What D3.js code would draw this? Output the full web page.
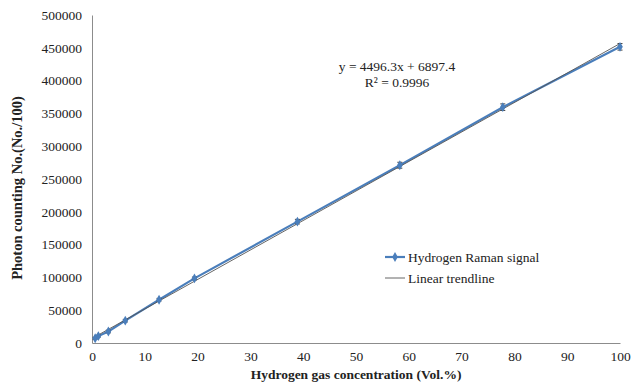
<!DOCTYPE html>
<html>
<head>
<meta charset="utf-8">
<script src="https://cdn.jsdelivr.net/npm/d3@7"></script>
<style>
  body { margin: 0; background: #fff; }
  svg, svg text { font-family: "Liberation Serif", "Times New Roman", serif; }
</style>
</head>
<body>
<div id="chart"></div>
<script>
const concentration = [0.6, 1.2, 3.1, 6.3, 12.7, 19.4, 38.9, 58.3, 77.8, 100]
const photonCount = [7200, 10500, 17500, 34000, 66000, 98500, 185000, 271000, 359500, 451500]
const errorBar = [1500, 1500, 2000, 2000, 2000, 2000, 3500, 4500, 5000, 5000]
const xTicks = [0, 10, 20, 30, 40, 50, 60, 70, 80, 90, 100]
const yTicks = [0, 50000, 100000, 150000, 200000, 250000, 300000, 350000, 400000, 450000, 500000]
const slope = 4496.3
const intercept = 6897.4
const trendRange = [0.6, 100]
const legendLabels = ["Hydrogen Raman signal", "Linear trendline"]

const dimensions = {
  width: 634,
  height: 386,
  margin: { top: 15, right: 14, bottom: 43, left: 92 },
  boundedWidth: 0,
  boundedHeight: 0
}
dimensions.boundedWidth = dimensions.width - dimensions.margin.left - dimensions.margin.right
dimensions.boundedHeight = dimensions.height - dimensions.margin.top - dimensions.margin.bottom

const blue = "#4a7ebb"
const serif = "'Liberation Serif', 'Times New Roman', serif"

const svg = d3.select("#chart")
  .append("svg")
    .attr("width", dimensions.width)
    .attr("height", dimensions.height)

const bounds = svg.append("g")
  .attr("transform", `translate(${dimensions.margin.left}, ${dimensions.margin.top})`)

const xScale = d3.scaleLinear()
  .domain([0, 100])
  .range([0, dimensions.boundedWidth])

const yScale = d3.scaleLinear()
  .domain([0, 500000])
  .range([dimensions.boundedHeight, 0])

// axes
const xAxis = bounds.append("g")
  .attr("transform", `translate(0, ${dimensions.boundedHeight})`)
  .call(d3.axisBottom(xScale).tickValues(xTicks).tickSize(0).tickPadding(8))
  .attr("font-family", serif)
xAxis.select(".domain").attr("stroke", "#8c8c8c")
xAxis.selectAll("text").attr("font-size", 13.5).attr("fill", "#222")

const yAxis = bounds.append("g")
  .call(d3.axisLeft(yScale).tickValues(yTicks).tickSize(0).tickPadding(10).tickFormat(d3.format("d")))
  .attr("font-family", serif)
yAxis.select(".domain").attr("stroke", "#8c8c8c")
yAxis.selectAll("text").attr("font-size", 13.5).attr("fill", "#222")

// data line
const line = d3.line()
  .x((d, i) => xScale(concentration[i]))
  .y(d => yScale(d))

bounds.append("path")
  .datum(photonCount)
  .attr("d", line)
  .attr("fill", "none")
  .attr("stroke", blue)
  .attr("stroke-width", 2.2)

// trendline
bounds.append("line")
  .attr("x1", xScale(trendRange[0]))
  .attr("y1", yScale(slope * trendRange[0] + intercept))
  .attr("x2", xScale(trendRange[1]))
  .attr("y2", yScale(slope * trendRange[1] + intercept))
  .attr("stroke", "#555")
  .attr("stroke-width", 0.9)

// error bars
const err = bounds.append("g").selectAll("g")
  .data(photonCount)
  .join("g")
err.append("line")
  .attr("x1", (d, i) => xScale(concentration[i]))
  .attr("x2", (d, i) => xScale(concentration[i]))
  .attr("y1", (d, i) => yScale(d - errorBar[i]))
  .attr("y2", (d, i) => yScale(d + errorBar[i]))
  .attr("stroke", "#444")
  .attr("stroke-width", 1)
err.selectAll(".cap")
  .data((d, i) => [[i, d - errorBar[i]], [i, d + errorBar[i]]])
  .join("line")
    .attr("x1", d => xScale(concentration[d[0]]) - 2.5)
    .attr("x2", d => xScale(concentration[d[0]]) + 2.5)
    .attr("y1", d => yScale(d[1]))
    .attr("y2", d => yScale(d[1]))
    .attr("stroke", "#444")
    .attr("stroke-width", 1)

// diamond markers
const diamond = d3.symbol().type(d3.symbolDiamond).size(28)
bounds.append("g").selectAll("path")
  .data(photonCount)
  .join("path")
    .attr("d", diamond)
    .attr("transform", (d, i) => `translate(${xScale(concentration[i])}, ${yScale(d)})`)
    .attr("fill", blue)

// equation
svg.append("text")
  .attr("x", 397).attr("y", 71)
  .attr("text-anchor", "middle")
  .attr("font-size", 13.5)
  .attr("fill", "#222")
  .text(`y = ${slope}x + ${intercept}`)
svg.append("text")
  .attr("x", 397).attr("y", 87)
  .attr("text-anchor", "middle")
  .attr("font-size", 13.5)
  .attr("fill", "#222")
  .text("R² = 0.9996")

// legend
const legend = svg.append("g").attr("transform", "translate(385, 257)")
legend.append("line")
  .attr("x1", 0).attr("x2", 20).attr("y1", 0).attr("y2", 0)
  .attr("stroke", blue).attr("stroke-width", 2.2)
legend.append("path")
  .attr("d", diamond)
  .attr("transform", "translate(10, 0)")
  .attr("fill", blue)
legend.append("line")
  .attr("x1", 0).attr("x2", 20).attr("y1", 21).attr("y2", 21)
  .attr("stroke", "#555").attr("stroke-width", 0.9)
legend.selectAll("text")
  .data(legendLabels)
  .join("text")
    .attr("x", 23)
    .attr("y", (d, i) => i * 21 + 4.5)
    .attr("font-size", 13.5)
    .attr("fill", "#222")
    .text(d => d)

// axis titles
svg.append("text")
  .attr("x", 356).attr("y", 379)
  .attr("text-anchor", "middle")
  .attr("font-size", 13.5)
  .attr("font-weight", "bold")
  .attr("fill", "#222")
  .text("Hydrogen gas concentration (Vol.%)")

svg.append("text")
  .attr("transform", "translate(22, 188) rotate(-90)")
  .attr("text-anchor", "middle")
  .attr("font-size", 14.5)
  .attr("font-weight", "bold")
  .attr("fill", "#222")
  .text("Photon counting No.(No./100)")
</script>
</body>
</html>
